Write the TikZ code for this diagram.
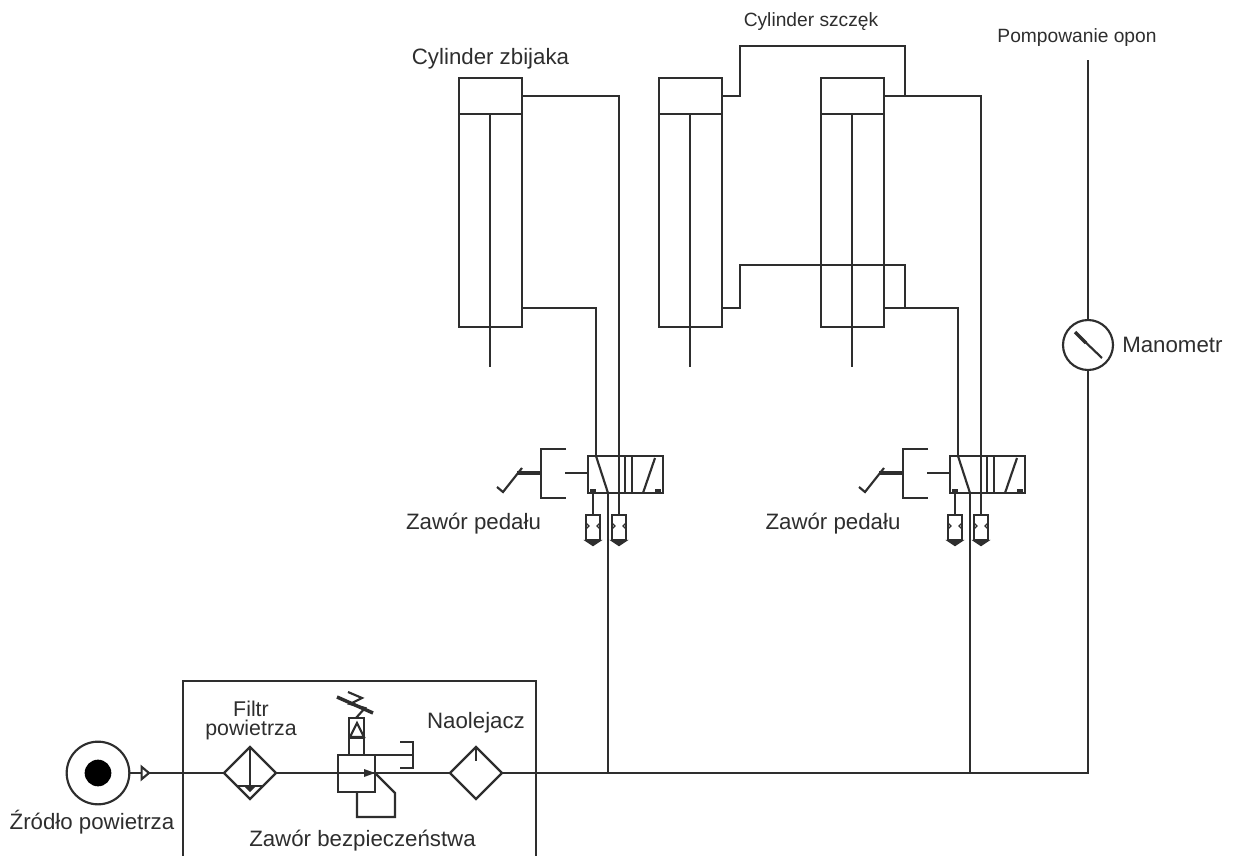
\documentclass[tikz,border=0pt]{standalone}
\usepackage{fontspec}
\setmainfont{Liberation Sans}
\usetikzlibrary{calc,shapes.geometric}
\definecolor{ink}{gray}{0.18}
\tikzset{
  ln/.style={draw=ink,line width=1.6pt,line join=miter},
  fine/.style={draw=ink,line width=0.9pt},
  box/.style={ln,rectangle,inner sep=0pt,outer sep=0pt},
  dia/.style={ln,diamond,inner sep=0pt,outer sep=0pt,minimum width=39pt,minimum height=39pt},
  ring/.style={ln,circle,inner sep=0pt,outer sep=0pt},
  lab/.style={font=\fontsize{16.7}{17}\selectfont,text=ink,inner sep=0pt},
  labm/.style={font=\fontsize{16}{17}\selectfont,text=ink,inner sep=0pt},
  labs/.style={font=\fontsize{14.4}{15}\selectfont,text=ink,inner sep=0pt},
}
% #1 left x, #2 name
\newcommand{\cyl}[2]{%
  \node[box,minimum width=47.25pt,minimum height=186.75pt,anchor=north west] (#2) at (#1,78) {};
  \coordinate (#2t) at (#1+63,96);
  \coordinate (#2b) at (#1+63,308);
  \coordinate (#2rod) at (#1+31,367);
  \coordinate (#2div) at (#1+31,114);
  \draw[ln] (#1,114) -- (#1+63,114);
  \draw[ln] (#2div) -- (#2rod);
}
% #1 x shift, #2 name
\newcommand{\valve}[2]{%
  \begin{scope}[shift={(#1,0)}]
  \node[box,minimum width=56.25pt,minimum height=27.75pt,anchor=north west] (#2) at (588,456) {};
  \coordinate (#2a) at (596,456);
  \coordinate (#2b) at (619,456);
  \coordinate (#2s) at (608,493);
  \coordinate (#2p) at (588,473);
  \draw[ln] (625,456) -- (625,493);
  \draw[ln] (632,456) -- (632,493);
  \draw[ln] (#2b) -- (619,515);
  \draw[ln] (#2a) -- (#2s);
  \draw[ln] (643,493) -- (655,458);
  \draw[ln] (593,493) -- (593,515);
  \fill[ink] (590,489) rectangle (596,493);
  \fill[ink] (655,489) rectangle (661,493);
  \foreach \xx in {593,619}{
    \draw[ln] (\xx-7,515) rectangle (\xx+7,540);
    \draw[ln,fill=ink] (\xx-6,541) -- (\xx,545) -- (\xx+6,541) -- cycle;
    \draw[fine] (\xx-7,523) -- (\xx-4,526) -- (\xx-7,529);
    \draw[fine] (\xx+7,523) -- (\xx+4,526) -- (\xx+7,529);
  }
  \draw[ln] (566,449) -- (541,449) -- (541,498) -- (566,498);
  \draw[ln] (565,473) -- (#2p);
  \draw[draw=ink,line width=2.6pt] (517,473) -- (541,473);
  \draw[ln] (497,487) -- (503,492) -- (522,468);
  \end{scope}
}
\begin{document}
\begin{tikzpicture}[x=0.75pt,y=-0.75pt]
\useasboundingbox (0,0) rectangle (1233,856);
\fill[white] (0,0) rectangle (1233,856);
% cylinders
\cyl{459}{ca}
\cyl{659}{cb}
\cyl{821}{cc}
% valves
\valve{0}{va}
\valve{362}{vb}
% left cylinder pipes
\draw[ln] (cat) -| (vab);
\draw[ln] (cab) -| (vaa);
% clamp cylinder pipes
\coordinate (j1) at (740,46);
\coordinate (j2) at (905,96);
\coordinate (j3) at (740,265);
\coordinate (j4) at (905,308);
\draw[ln] (cbt) -| (j1) -| (j2);
\draw[ln] (cct) -| (vbb);
\draw[ln] (cbb) -| (j3) -| (j4);
\draw[ln] (ccb) -| (vba);
% supply
\coordinate (s1) at (608,773);
\coordinate (s2) at (970,773);
\draw[ln] (vas) -- (s1);
\draw[ln] (vbs) -- (s2);
% source
\node[ring,minimum size=47pt] (src) at (98,773) {};
\node[circle,fill=black,inner sep=0pt,minimum size=20pt] (dot) at (98,773) {};
\node[ln,isosceles triangle,isosceles triangle apex angle=80,inner sep=0pt,minimum height=5.5pt,minimum width=8pt,outer sep=0pt] (chk) at (144.5,773) {};
% unit
\node[dia] (filt) at (250,773) {};
\node[dia] (oil) at (476,773) {};
\node[box,minimum size=27.75pt] (reg) at (356.5,773.5) {};
\node[ring,minimum size=37.5pt] (gauge) at (1088,345) {};
\coordinate (corner) at (1088,773);
\coordinate (top) at (1088,60);
% main line
\draw[ln] (src.east) -- (chk.west);
\draw[ln] (chk.east) -- (filt.west);
\draw[ln] (filt.east) -- (oil.west);
\draw[ln] (oil.east) -- (corner) -- (gauge.south);
\draw[ln] (gauge.north) -- (top);
\draw[ln] (1080,337) -- (1102,358);
\draw[draw=ink,line width=2.6pt] (1075,332) -- (1086,343);
% box
\draw[ln] (183,856) -- (183,681) -- (536,681) -- (536,856);
% filter details
\draw[ln] (filt.north) -- (250,788);
\draw[ln] (237,786) -- (263,786);
\fill[ink] (245,787) -- (250,792) -- (255,787) -- cycle;
% oiler
\draw[ln] (oil.north) -- (476,761);
% regulator
\draw[ln] (349,755) -- (349,718) -- (364,718) -- (364,755);
\draw[ln] (349,738) -- (364,738);
\draw[ln] (350,737) -- (357,723) -- (364,737) -- cycle;
\draw[ln] (375,755) -- (413,755);
\draw[ln] (400,742) -- (413,742) -- (413,768) -- (400,768);
\draw[ln] (375,773) -- (395,793) -- (395,817) -- (357,817) -- (357,792);
\fill[ink] (364,769) -- (375,773) -- (364,777) -- cycle;
\draw[ln] (348,692) -- (362,698) -- (350,704) -- (365,708) -- (356,718);
\draw[draw=ink,line width=2.6pt] (337,697) -- (373,713);
% labels
\node[lab,anchor=base] (t1) at (490.5,65) {Cylinder zbijaka};
\node[labs,anchor=base] (t2) at (811,27) {Cylinder szczęk};
\node[labs,anchor=base] (t3) at (1077,43) {Pompowanie opon};
\node[lab,anchor=west] (t4) at (1122,345) {Manometr};
\node[lab,anchor=base] (t5) at (473.5,529) {Zawór pedału};
\node[lab,anchor=base] (t6) at (833,529) {Zawór pedału};
\node[lab,anchor=base] (t7) at (92,829) {Źródło powietrza};
\node[labm,anchor=base] (t8) at (251,716) {Filtr};
\node[labm,anchor=base] (t8b) at (251,735) {powietrza};
\node[lab,anchor=base] (t9) at (476,728) {Naolejacz};
\node[lab,anchor=base] (t10) at (362.5,846) {Zawór bezpieczeństwa};
\end{tikzpicture}
\end{document}
